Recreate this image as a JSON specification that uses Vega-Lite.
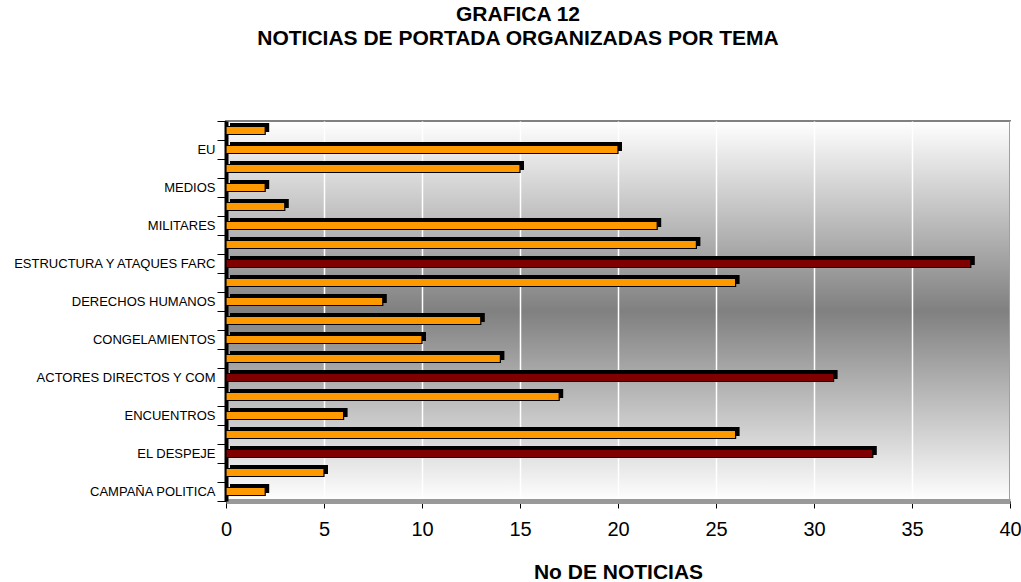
{
  "$schema": "https://vega.github.io/schema/vega-lite/v6.json",
  "width": 784,
  "height": 380,
  "autosize": {"type": "none"},
  "padding": {"left": 226, "top": 121, "right": 11, "bottom": 81},
  "background": "white",
  "title": {
    "text": ["GRAFICA 12", "NOTICIAS DE PORTADA ORGANIZADAS POR TEMA"],
    "font": "Liberation Sans, Arial, sans-serif",
    "fontSize": 21,
    "fontWeight": "bold",
    "color": "black",
    "anchor": "middle",
    "dx": -100,
    "offset": 66,
    "lineHeight": 24
  },
  "config": {
    "view": {
      "fill": {
        "gradient": "linear",
        "x1": 0, "y1": 0, "x2": 0, "y2": 1,
        "stops": [
          {"offset": 0, "color": "#ffffff"},
          {"offset": 0.5, "color": "#808080"},
          {"offset": 1, "color": "#ffffff"}
        ]
      },
      "stroke": "#808080",
      "strokeWidth": 2
    }
  },
  "data": {
    "values": [
      {"tema": "sin etiqueta 20", "noticias": 2},
      {"tema": "EU", "noticias": 20},
      {"tema": "sin etiqueta 18", "noticias": 15},
      {"tema": "MEDIOS", "noticias": 2},
      {"tema": "sin etiqueta 16", "noticias": 3},
      {"tema": "MILITARES", "noticias": 22},
      {"tema": "sin etiqueta 14", "noticias": 24},
      {"tema": "ESTRUCTURA Y ATAQUES FARC", "noticias": 38},
      {"tema": "sin etiqueta 12", "noticias": 26},
      {"tema": "DERECHOS HUMANOS", "noticias": 8},
      {"tema": "sin etiqueta 10", "noticias": 13},
      {"tema": "CONGELAMIENTOS", "noticias": 10},
      {"tema": "sin etiqueta 8", "noticias": 14},
      {"tema": "ACTORES DIRECTOS Y COM", "noticias": 31},
      {"tema": "sin etiqueta 6", "noticias": 17},
      {"tema": "ENCUENTROS", "noticias": 6},
      {"tema": "sin etiqueta 4", "noticias": 26},
      {"tema": "EL DESPEJE", "noticias": 33},
      {"tema": "sin etiqueta 2", "noticias": 5},
      {"tema": "CAMPAÑA POLITICA", "noticias": 2}
    ]
  },
  "encoding": {
    "y": {
      "field": "tema",
      "type": "nominal",
      "sort": null,
      "scale": {"paddingInner": 0, "paddingOuter": 0},
      "axis": {
        "title": null,
        "grid": false,
        "domainColor": "black",
        "domainWidth": 4,
        "ticks": true,
        "tickBand": "extent",
        "tickColor": "black",
        "tickSize": 9,
        "tickWidth": 1,
        "labelFont": "Liberation Sans, Arial, sans-serif",
        "labelFontSize": 13,
        "labelColor": "black",
        "labelPadding": 2,
        "labelLimit": 300,
        "labelExpr": "indexof(datum.label, 'sin etiqueta') === 0 ? '' : datum.label"
      }
    },
    "x": {
      "field": "noticias",
      "type": "quantitative",
      "scale": {"domain": [0, 40], "nice": false},
      "axis": {
        "title": "No DE NOTICIAS",
        "titleFont": "Liberation Sans, Arial, sans-serif",
        "titleFontSize": 21,
        "titleFontWeight": "bold",
        "titleColor": "black",
        "titlePadding": 22,
        "values": [0, 5, 10, 15, 20, 25, 30, 35, 40],
        "grid": true,
        "gridColor": "white",
        "gridWidth": 1.5,
        "domainColor": "#999999",
        "domainWidth": 5,
        "tickColor": "black",
        "tickSize": 7,
        "labelFont": "Liberation Sans, Arial, sans-serif",
        "labelFontSize": 20,
        "labelColor": "black",
        "labelPadding": 11,
        "labelFlush": false
      }
    }
  },
  "layer": [
    {
      "mark": {"type": "bar", "fill": "black", "size": 9, "xOffset": 4, "yOffset": -3}
    },
    {
      "mark": {"type": "bar", "size": 8, "stroke": "black", "strokeWidth": 1.2},
      "encoding": {
        "color": {
          "condition": {"test": "datum.noticias > 30", "value": "#800000"},
          "value": "#FF9900"
        }
      }
    }
  ]
}
